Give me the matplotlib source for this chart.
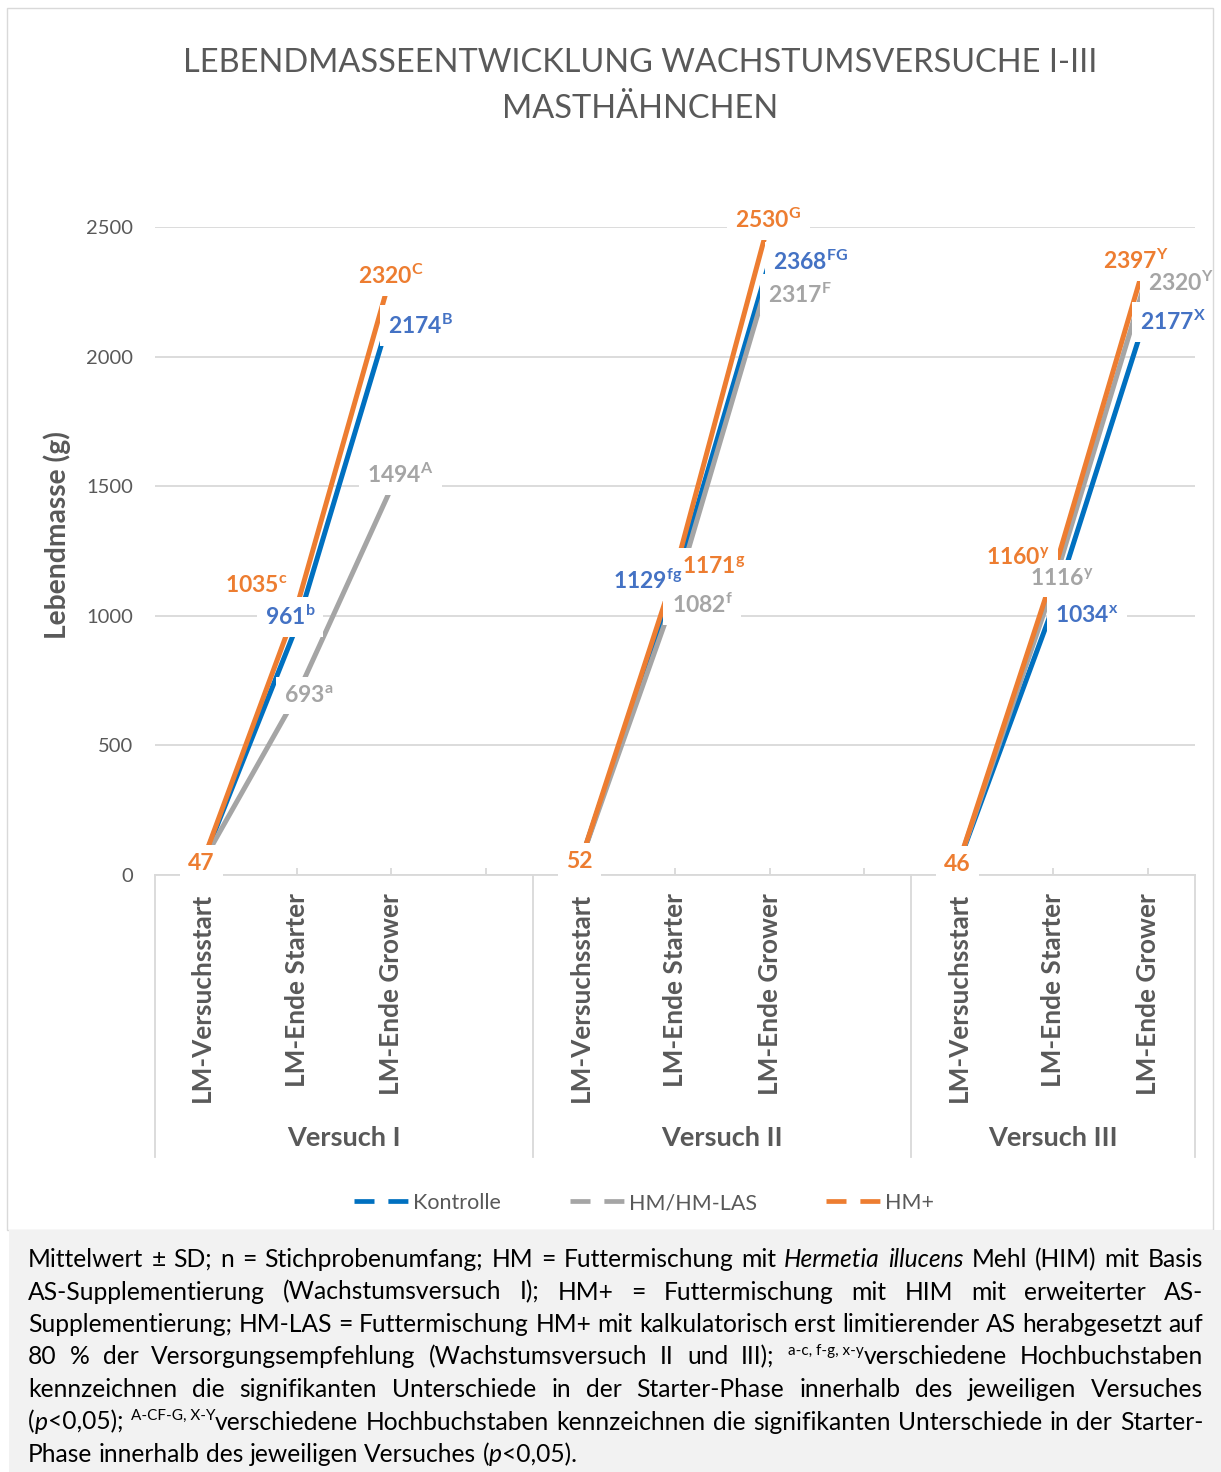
import re
import matplotlib
matplotlib.use("Agg")
import matplotlib.pyplot as plt
import matplotlib.transforms as mtransforms
from matplotlib.lines import Line2D
from matplotlib.patches import Rectangle

plt.rcParams['font.family'] = ['Lato', 'DejaVu Sans']
plt.rcParams['mathtext.fontset'] = 'custom'
plt.rcParams['mathtext.rm'] = 'Lato'
plt.rcParams['mathtext.bf'] = 'Lato:bold'
plt.rcParams['mathtext.it'] = 'Lato:italic'
plt.rcParams['lines.scale_dashes'] = False

# --- Daten ---
stages = ['LM-Versuchsstart', 'LM-Ende Starter', 'LM-Ende Grower']
groups = ['Versuch I', 'Versuch II', 'Versuch III']
series_names = ['Kontrolle', 'HM/HM-LAS', 'HM+']

kontrolle = [[47, 961, 2174], [52, 1129, 2368], [46, 1034, 2177]]
hm_las = [[47, 693, 1494], [52, 1082, 2317], [46, 1116, 2320]]
hm_plus = [[47, 1035, 2320], [52, 1171, 2530], [46, 1160, 2397]]

sup_kontrolle = [['', 'b', 'B'], ['', 'fg', 'FG'], ['', 'x', 'X']]
sup_hm_las = [['', 'a', 'A'], ['', 'f', 'F'], ['', 'y', 'Y']]
sup_hm_plus = [['', 'c', 'C'], ['', 'g', 'G'], ['', 'y', 'Y']]

# Label-Versatz in Pixeln (rechts, oben); None = kein Label
off_kontrolle = [[None, (-7, 9), (29, -14)], [None, (-27, 2), (41, -1)], [None, (34, -9), (25, -11)]]
off_hm_las = [[None, (12, 0), (9, 13)], [None, (27, -10), (30, -20)], [None, (9, 7), (33, -9)]]
off_hm_plus = [[(-1, -1), (-40, 21), (0, -2)], [(-1, 0), (39, 5), (-1, -1)], [(-1, -1), (-35, 17), (-12, -7)]]

colors = ['#0070C0', '#A5A5A5', '#ED7D31']
label_colors = ['#4472C4', '#A5A5A5', '#ED7D31']
txt = '#595959'
grid_c = '#D9D9D9'

footnote = [
    "Mittelwert ± SD; n = Stichprobenumfang; HM = Futtermischung mit *Hermetia* *illucens* Mehl (HIM) mit Basis",
    "AS-Supplementierung (Wachstumsversuch I); HM+ = Futtermischung mit HIM mit erweiterter AS-",
    "Supplementierung; HM-LAS = Futtermischung HM+ mit kalkulatorisch erst limitierender AS herabgesetzt auf",
    "80 % der Versorgungsempfehlung (Wachstumsversuch II und III); {a-c,~f-g,~x-y}verschiedene Hochbuchstaben",
    "kennzeichnen die signifikanten Unterschiede in der Starter-Phase innerhalb des jeweiligen Versuches",
    "(*p*<0,05); {A-CF-G,~X-Y}verschiedene Hochbuchstaben kennzeichnen die signifikanten Unterschiede in der Starter-",
    "Phase innerhalb des jeweiligen Versuches (*p*<0,05).",
]

W_PX, H_PX = 1221, 1472


def fx(x):
    return x / W_PX


def fy(y):
    return 1 - y / H_PX


fig = plt.figure(figsize=(12.21, 14.72), dpi=100)
fig.patch.set_facecolor('white')

# Rahmen + Fußnotenbereich
fig.patches.append(Rectangle((fx(7), fy(1230)), fx(1213) - fx(7), fy(8) - fy(1230),
                             transform=fig.transFigure, fill=False, ec=grid_c, lw=1, zorder=0))
fig.patches.append(Rectangle((fx(9), 0), 1 - fx(9), fy(1230),
                             transform=fig.transFigure, fc='#F2F2F2', ec='none', zorder=0))

ax = fig.add_axes([fx(155), fy(875), fx(1195) - fx(155), fy(227) - fy(875)])

all_vals = [kontrolle, hm_las, hm_plus]
all_sups = [sup_kontrolle, sup_hm_las, sup_hm_plus]
all_offs = [off_kontrolle, off_hm_las, off_hm_plus]

for i in range(3):
    for g in range(3):
        xs = [g * 4 + s for s in range(3)]
        ax.plot(xs, all_vals[i][g], color=colors[i], lw=3.6, solid_capstyle='butt',
                zorder=2 + i, clip_on=False)

# Datenbeschriftungen: erst weiße Kästen, dann Texte darüber
for i in range(3):
    for g in range(3):
        for s in range(3):
            off = all_offs[i][g][s]
            if off is None:
                continue
            v = all_vals[i][g][s]
            sup = all_sups[i][g][s]
            lab = str(v) + (r'$^{\mathbf{' + sup + '}}$' if sup else '')
            for layer in (0, 1):
                kw = dict(bbox=dict(boxstyle='square,pad=0.35', fc='white', ec='none')) if layer == 0 else {}
                ax.annotate(lab, xy=(g * 4 + s, v), xytext=off, textcoords='offset pixels',
                            ha='center', va='center', fontsize=16.5, fontweight='bold',
                            color='white' if layer == 0 else label_colors[i],
                            zorder=10 + 10 * layer + i, annotation_clip=False, **kw)

ax.set_xlim(-0.5, 10.5)
ax.set_ylim(0, 2500)
ax.set_yticks(range(0, 2501, 500))
ax.yaxis.grid(True, color=grid_c, lw=1.3)
ax.set_axisbelow(True)
for sp in ['top', 'right', 'left']:
    ax.spines[sp].set_visible(False)
ax.spines['bottom'].set_color(grid_c)
ax.spines['bottom'].set_linewidth(1.3)

ticklabels = [''] * 11
for g in range(3):
    for s in range(3):
        ticklabels[g * 4 + s] = stages[s]
ax.set_xticks(range(11))
ax.set_xticklabels(ticklabels, rotation=90, va='top', ha='center')
ax.tick_params(axis='x', direction='in', length=5, color=grid_c, width=1.3,
               pad=13, labelsize=18.8, labelcolor=txt)
for t in ax.get_xticklabels():
    t.set_fontweight('bold')
ax.tick_params(axis='y', length=0, pad=16, labelsize=14.5, labelcolor=txt)

trans = mtransforms.blended_transform_factory(ax.transData, ax.transAxes)
for xb in [-0.5, 3.5, 7.5, 10.5]:
    ax.plot([xb, xb], [0, -282 / 648], transform=trans, color=grid_c, lw=1.3, clip_on=False)
for g, name in enumerate(groups):
    xc = [1.5, 5.5, 9][g]
    ax.text(xc, -263 / 648, name, transform=trans, ha='center', va='center',
            fontsize=19.5, fontweight='bold', color=txt)

fig.text(fx(640), fy(63), 'LEBENDMASSEENTWICKLUNG WACHSTUMSVERSUCHE I-III',
         ha='center', va='center', fontsize=23.4, color=txt)
fig.text(fx(640), fy(109), 'MASTHÄHNCHEN', ha='center', va='center', fontsize=23.4, color=txt)
fig.text(fx(57), fy(535), 'Lebendmasse (g)', rotation=90, ha='center', va='center',
         fontsize=20.3, fontweight='bold', color=txt)

handles = [Line2D([], [], color=c, lw=3.4, dashes=(14.4, 10)) for c in colors]
fig.legend(handles, series_names, loc='center', bbox_to_anchor=(fx(644), fy(1203)), ncol=3,
           frameon=False, fontsize=15.5, handlelength=2.5, handletextpad=0.25,
           columnspacing=3.2, labelcolor=txt)

# --- Fußnote (Blocksatz) ---
renderer = fig.canvas.get_renderer()


def text_w(s, size, style='normal'):
    t = fig.text(0, 0, s, fontsize=size, fontstyle=style)
    w = t.get_window_extent(renderer).width
    t.remove()
    return w


def parse_word(word):
    runs = []
    for part in re.split(r'(\*[^*]+\*|\{[^}]+\})', word):
        if not part:
            continue
        if part.startswith('*'):
            runs.append((part[1:-1], 'i'))
        elif part.startswith('{'):
            runs.append((part[1:-1].replace('~', ' '), 's'))
        else:
            runs.append((part, 'n'))
    return runs


x0, x1 = 28, 1203
base0, line_h = 1267, 32.5
size = 18.0
words_lines = [[parse_word(w) for w in line.split(' ')] for line in footnote]


def measure(size):
    res = []
    for words in words_lines:
        ws = []
        for runs in words:
            rw = []
            for s, st in runs:
                if st == 's':
                    rw.append(text_w(s, size * 0.62))
                else:
                    rw.append(text_w(s, size, 'italic' if st == 'i' else 'normal'))
            ws.append(rw)
        res.append(ws)
    return res


while True:
    widths = measure(size)
    space = text_w('a a', size) - text_w('aa', size)
    need = max(sum(sum(r) for r in ws) + (len(ws) - 1) * space * 0.8 for ws in widths)
    if need <= x1 - x0 or size < 12:
        break
    size -= 0.25

for li, (words, ws) in enumerate(zip(words_lines, widths)):
    total = sum(sum(r) for r in ws)
    last = li == len(words_lines) - 1
    gap = space if last else (x1 - x0 - total) / (len(words) - 1)
    x = x0
    base = base0 + li * line_h
    for runs, rw in zip(words, ws):
        for (s, st), w in zip(runs, rw):
            if st == 's':
                fig.text(fx(x), fy(base - size * 0.40 * 100 / 72), s, fontsize=size * 0.62,
                         va='baseline', ha='left', color='black')
            else:
                fig.text(fx(x), fy(base), s, fontsize=size, va='baseline', ha='left',
                         fontstyle='italic' if st == 'i' else 'normal', color='black')
            x += w
        x += gap

fig.savefig('out.png', dpi=100, facecolor='white')
